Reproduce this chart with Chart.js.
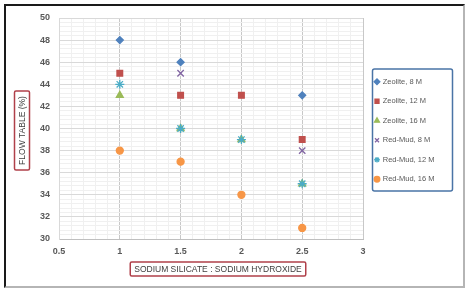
<!DOCTYPE html>
<html>
<head>
  <title>Flow table</title>
  <style>
    body { margin: 0; background: #fff; }
    #wrap { position: relative; width: 467px; height: 288px; }
    #frame {
      position: absolute; left: 4px; top: 4px; width: 457px; height: 280px;
      border-top: 2px solid #1a1a1a; border-left: 2px solid #1a1a1a;
      border-right: 2px solid #b5b5b5; border-bottom: 2px solid #b5b5b5;
      pointer-events: none;
    }
  </style>
  <script src="https://cdn.jsdelivr.net/npm/chart.js"></script>
</head>
<body>
<div id="wrap">
  <canvas id="chart" width="467" height="288"></canvas>
  <div id="frame"></div>
</div>
<script>
  // ratio on the x axis
  const ratios = [1, 1.5, 2, 2.5];

  // flow table (%) per series, null where no point is visible
  const zeolite8 = [48, 46, null, 43];
  const zeolite12 = [45, 43, 43, 39];
  const zeolite16 = [43, 40, 39, 35];
  const redMud8 = [null, 45, null, 38];
  const redMud12 = [44, 40, 39, 35];
  const redMud16 = [38, 37, 34, 31];

  const seriesNames = ['Zeolite, 8 M', 'Zeolite, 12 M', 'Zeolite, 16 M', 'Red-Mud, 8 M', 'Red-Mud, 12 M', 'Red-Mud, 16 M'];
  const xTitle = 'SODIUM SILICATE : SODIUM HYDROXIDE';
  const yTitle = 'FLOW TABLE (%)';

  function toPoints(ys) {
    const pts = [];
    ys.forEach(function (y, i) {
      if (y !== null) pts.push({ x: ratios[i], y: y });
    });
    return pts;
  }

  const styles = [
    { c: '#4f81bd', p: 'rectRot', r: 3.5 },
    { c: '#c0504d', p: 'rect', r: 4 },
    { c: '#9bbb59', p: 'triangle', r: 4 },
    { c: '#8064a2', p: 'crossRot', r: 4.5 },
    { c: '#4bacc6', p: 'star', r: 4.5 },
    { c: '#f79646', p: 'circle', r: 3.5 }
  ];
  const allSeries = [zeolite8, zeolite12, zeolite16, redMud8, redMud12, redMud16];

  const datasets = allSeries.map(function (ys, i) {
    return {
      label: seriesNames[i],
      data: toPoints(ys),
      backgroundColor: styles[i].c,
      borderColor: styles[i].c,
      borderWidth: 1.3,
      pointStyle: styles[i].p,
      pointRadius: styles[i].r,
      order: allSeries.length - 1 - i
    };
  });

  function isMultiple(v, step) {
    const q = v / step;
    return Math.abs(q - Math.round(q)) < 1e-6;
  }

  const LEGEND_W = 90;

  // fixed legend width and a small lift of the legend
  const legendFix = {
    id: 'legendFix',
    beforeUpdate(chart) {
      const lg = chart.legend;
      if (lg && !lg._fixed) {
        const fit = lg.fit;
        lg.fit = function () { fit.call(this); this.width = LEGEND_W; };
        lg._fixed = true;
      }
    },
    afterLayout(chart) {
      chart.legend.top -= 9;
      chart.legend.bottom -= 9;
    }
  };

  // red boxes round the axis titles, blue box round the legend
  const decor = {
    id: 'decor',
    afterDraw(chart) {
      const ctx = chart.ctx;
      const a = chart.chartArea;
      ctx.save();
      ctx.font = '8.5px "Liberation Sans", Arial, sans-serif';
      ctx.fillStyle = '#404040';
      ctx.textAlign = 'center';
      ctx.textBaseline = 'middle';

      const cx = (a.left + a.right) / 2 + 7;
      const tw = ctx.measureText(xTitle).width;
      ctx.fillText(xTitle, cx, 269.5);
      ctx.strokeStyle = '#b0404a';
      ctx.lineWidth = 1.5;
      ctx.beginPath();
      ctx.roundRect(cx - tw / 2 - 4, 262, tw + 8, 14, 1.5);
      ctx.stroke();

      const cy = (a.top + a.bottom) / 2 + 2;
      const th = ctx.measureText(yTitle).width;
      ctx.save();
      ctx.translate(22.5, cy);
      ctx.rotate(-Math.PI / 2);
      ctx.fillText(yTitle, 0, 0);
      ctx.restore();
      ctx.beginPath();
      ctx.roundRect(14.5, cy - th / 2 - 5, 15, th + 10, 1.5);
      ctx.stroke();

      const hb = chart.legend.legendHitBoxes;
      if (hb && hb.length) {
        const top = hb[0].top - 9;
        const bottom = hb[hb.length - 1].top + hb[hb.length - 1].height + 8;
        ctx.strokeStyle = '#4a74a6';
        ctx.lineWidth = 1.5;
        ctx.beginPath();
        ctx.roundRect(372.5, top, 80, bottom - top, 2);
        ctx.stroke();
      }
      ctx.restore();
    }
  };

  new Chart(document.getElementById('chart'), {
    type: 'scatter',
    data: { datasets: datasets },
    options: {
      responsive: false,
      animation: false,
      layout: { padding: { left: 29, top: 18, bottom: 27, right: 14 } },
      scales: {
        x: {
          type: 'linear',
          min: 0.5,
          max: 3,
          afterFit(scale) { scale.height = 22; },
          border: { color: '#bfbfbf' },
          grid: {
            drawTicks: false,
            color(ctx) { return isMultiple(ctx.tick.value, 0.5) ? '#c8c8c8' : '#f0f0f0'; }
          },
          ticks: {
            stepSize: 0.1,
            autoSkip: false,
            maxRotation: 0,
            padding: 7,
            color: '#595959',
            font: { family: '"Liberation Sans", Arial, sans-serif', size: 9, weight: 'bold' },
            callback(v) { return isMultiple(v, 0.5) ? String(Math.round(v * 10) / 10) : ''; }
          }
        },
        y: {
          min: 30,
          max: 50,
          afterFit(scale) { scale.width = 30; },
          border: { color: '#d9d9d9' },
          grid: {
            drawTicks: false,
            color(ctx) { return isMultiple(ctx.tick.value, 2) ? '#d9d9d9' : '#f0f0f0'; }
          },
          ticks: {
            stepSize: 0.4,
            autoSkip: false,
            padding: 9,
            color: '#595959',
            font: { family: '"Liberation Sans", Arial, sans-serif', size: 9, weight: 'bold' },
            callback(v) { return isMultiple(v, 2) ? String(Math.round(v)) : ''; }
          }
        }
      },
      plugins: {
        tooltip: { enabled: false },
        legend: {
          position: 'right',
          align: 'center',
          labels: {
            usePointStyle: true,
            boxWidth: 4,
            boxHeight: 4,
            padding: 12,
            color: '#595959',
            font: { family: '"Liberation Sans", Arial, sans-serif', size: 7.5 },
            sort(a, b) { return a.datasetIndex - b.datasetIndex; }
          }
        }
      }
    },
    plugins: [legendFix, decor]
  });
</script>
</body>
</html>
